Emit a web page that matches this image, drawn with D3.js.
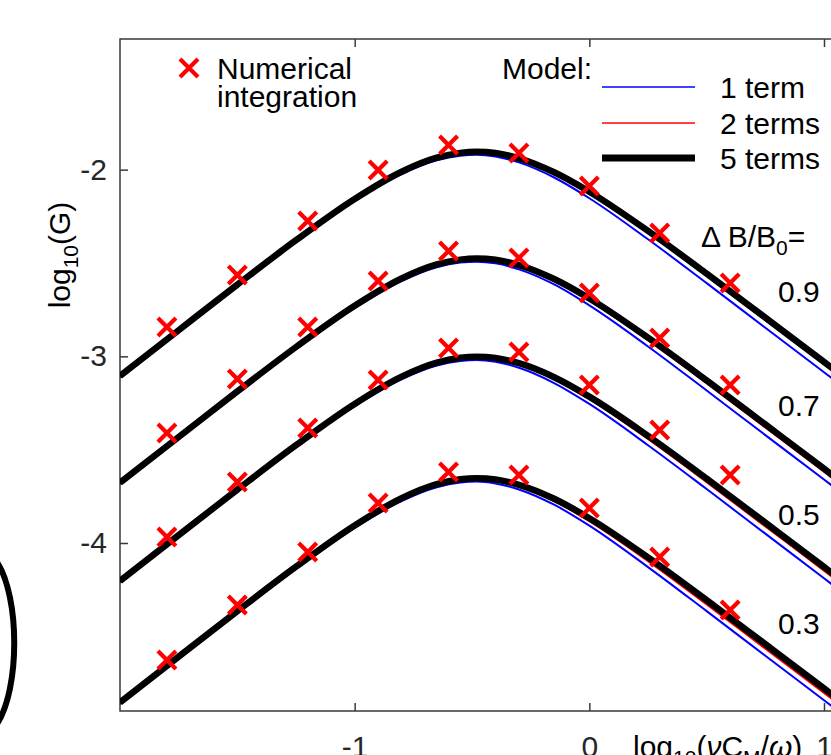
<!DOCTYPE html>
<html>
<head>
<meta charset="utf-8">
<title>log10(G) vs log10(nu C_M / omega)</title>
<script src="https://d3js.org/d3.v7.min.js"></script>
<style>
    body {
        margin: 0;
        background: #fff;
        overflow: hidden;
    }
    svg {
        display: block;
        font-family: "Liberation Sans", Arial, sans-serif;
    }
    .frame {
        stroke: #3a3a3a;
        stroke-width: 1.5;
        fill: none;
    }
</style>
</head>
<body>
<svg id="chart" width="831" height="755"></svg>
<script>
    // x grid the model curves were read on (log10(nu C_M / omega))
    const xModel = [-2, -1.75, -1.5, -1.25, -1, -0.8, -0.65, -0.55, -0.48, -0.4, -0.3, -0.15, 0, 0.25, 0.5, 0.75, 1, 1.05];

    // model, 1 term (blue)
    const term1_09 = [-3.113, -2.868, -2.625, -2.388, -2.168, -2.024, -1.950, -1.925, -1.920, -1.929, -1.961, -2.042, -2.153, -2.373, -2.608, -2.847, -3.085, -3.133];
    const term1_07 = [-3.685, -3.440, -3.197, -2.961, -2.741, -2.597, -2.523, -2.498, -2.493, -2.502, -2.534, -2.615, -2.727, -2.947, -3.183, -3.422, -3.660, -3.708];
    const term1_05 = [-4.212, -3.967, -3.724, -3.487, -3.267, -3.123, -3.049, -3.025, -3.020, -3.029, -3.061, -3.143, -3.255, -3.476, -3.711, -3.950, -4.189, -4.237];
    const term1_03 = [-4.863, -4.618, -4.375, -4.139, -3.919, -3.775, -3.701, -3.676, -3.671, -3.681, -3.713, -3.795, -3.907, -4.129, -4.365, -4.604, -4.842, -4.890];

    // model, 2 terms (red)
    const term2_09 = [-3.105, -2.860, -2.616, -2.378, -2.157, -2.012, -1.938, -1.912, -1.907, -1.915, -1.943, -2.020, -2.126, -2.338, -2.568, -2.805, -3.042, -3.090];
    const term2_07 = [-3.677, -3.432, -3.188, -2.950, -2.729, -2.585, -2.510, -2.485, -2.480, -2.488, -2.517, -2.594, -2.700, -2.914, -3.144, -3.381, -3.618, -3.666];
    const term2_05 = [-4.203, -3.958, -3.714, -3.476, -3.255, -3.111, -3.037, -3.012, -3.007, -3.015, -3.044, -3.122, -3.229, -3.443, -3.674, -3.911, -4.148, -4.196];
    const term2_03 = [-4.854, -4.609, -4.365, -4.127, -3.906, -3.762, -3.689, -3.664, -3.659, -3.667, -3.696, -3.775, -3.883, -4.097, -4.329, -4.566, -4.803, -4.851];

    // model, 5 terms (black)
    const term5_09 = [-3.105, -2.860, -2.616, -2.378, -2.157, -2.011, -1.936, -1.910, -1.904, -1.911, -1.939, -2.014, -2.118, -2.328, -2.557, -2.793, -3.030, -3.078];
    const term5_07 = [-3.677, -3.432, -3.188, -2.950, -2.729, -2.583, -2.508, -2.482, -2.476, -2.483, -2.511, -2.586, -2.690, -2.900, -3.129, -3.365, -3.602, -3.650];
    const term5_05 = [-4.203, -3.958, -3.714, -3.476, -3.255, -3.109, -3.034, -3.008, -3.002, -3.009, -3.037, -3.112, -3.216, -3.426, -3.655, -3.891, -4.128, -4.176];
    const term5_03 = [-4.854, -4.609, -4.365, -4.127, -3.906, -3.760, -3.685, -3.659, -3.653, -3.660, -3.688, -3.763, -3.867, -4.077, -4.306, -4.542, -4.779, -4.827];

    // numerical integration (red crosses)
    const xNum = [-1.8, -1.5, -1.2, -0.9, -0.6, -0.3, 0, 0.3, 0.6];
    const num09 = [-2.843, -2.564, -2.275, -2.002, -1.868, -1.911, -2.088, -2.339, -2.607];
    const num07 = [-3.411, -3.121, -2.843, -2.596, -2.436, -2.473, -2.661, -2.902, -3.154];
    const num05 = [-3.968, -3.673, -3.384, -3.127, -2.955, -2.977, -3.154, -3.395, -3.636];
    const num03 = [-4.627, -4.332, -4.048, -3.786, -3.620, -3.636, -3.813, -4.075, -4.359];

    const ratioLabels = ['0.9', '0.7', '0.5', '0.3'];
    const xTicks = [-1, 0, 1];
    const yTicks = [-2, -3, -4];

    const FONT = 30;
    const svg = d3.select('#chart');

    // plot box (right side runs past the window edge)
    const boxL = 120, boxT = 39, boxB = 711, boxR = 870;
    const x = d3.scaleLinear().domain([-2, 1]).range([120, 824]);
    const y = d3.scaleLinear().domain([-4.9, -1.3]).range([711, 39]);

    svg.append('defs').append('clipPath')
        .attr('id', 'plot-clip')
        .append('rect')
        .attr('x', boxL).attr('y', boxT)
        .attr('width', boxR - boxL).attr('height', boxB - boxT);

    // leftover bracket from the neighbouring panel
    svg.append('path')
        .attr('d', 'M -3 562 C 20 598, 20 688, -3 724')
        .attr('fill', 'none')
        .attr('stroke', '#000')
        .attr('stroke-width', 6);

    // axes
    function styleAxis(g) {
        g.select('.domain').remove();
        g.selectAll('.tick line').attr('stroke', '#3a3a3a').attr('stroke-width', 1.5);
        g.selectAll('.tick text').attr('fill', '#262626');
        g.attr('font-size', FONT).attr('font-family', '"Liberation Sans", Arial, sans-serif');
    }

    svg.append('g')
        .attr('transform', `translate(0,${boxB})`)
        .call(d3.axisBottom(x).tickValues(xTicks).tickFormat(d => String(d))
            .tickSizeInner(-8).tickSizeOuter(0).tickPadding(25))
        .call(styleAxis);

    svg.append('g')
        .attr('transform', `translate(0,${boxT})`)
        .call(d3.axisTop(x).tickValues(xTicks).tickFormat('')
            .tickSizeInner(-8).tickSizeOuter(0))
        .call(styleAxis);

    svg.append('g')
        .attr('transform', `translate(${boxL},0)`)
        .call(d3.axisLeft(y).tickValues(yTicks).tickFormat(d => String(d))
            .tickSizeInner(-8).tickSizeOuter(0).tickPadding(13))
        .call(styleAxis);

    svg.append('path')
        .attr('class', 'frame')
        .attr('d', `M ${boxR} ${boxT} H ${boxL} V ${boxB} H ${boxR}`);

    // curves
    const line = d3.line()
        .x((d, i) => x(xModel[i]))
        .y(d => y(d))
        .curve(d3.curveMonotoneX);

    const curves = svg.append('g').attr('clip-path', 'url(#plot-clip)');
    const blueRows = [term1_09, term1_07, term1_05, term1_03];
    const redRows = [term2_09, term2_07, term2_05, term2_03];
    const blackRows = [term5_09, term5_07, term5_05, term5_03];

    blueRows.forEach(r => curves.append('path').attr('d', line(r))
        .attr('fill', 'none').attr('stroke', '#0000ff').attr('stroke-width', 2));
    redRows.forEach(r => curves.append('path').attr('d', line(r))
        .attr('fill', 'none').attr('stroke', '#ff0000').attr('stroke-width', 2));
    blackRows.forEach(r => curves.append('path').attr('d', line(r))
        .attr('fill', 'none').attr('stroke', '#000').attr('stroke-width', 6.5));

    // crosses
    const cross = s => `M ${-s} ${-s} L ${s} ${s} M ${-s} ${s} L ${s} ${-s}`;
    [num09, num07, num05, num03].forEach(row => {
        curves.selectAll(null)
            .data(row)
            .enter().append('path')
            .attr('transform', (d, i) => `translate(${x(xNum[i])},${y(d)})`)
            .attr('d', cross(9))
            .attr('fill', 'none')
            .attr('stroke', '#ff0000')
            .attr('stroke-width', 4.2);
    });

    // legend
    svg.append('path')
        .attr('transform', 'translate(189,68)')
        .attr('d', cross(9))
        .attr('stroke', '#ff0000').attr('stroke-width', 4.2).attr('fill', 'none');
    svg.append('text').attr('x', 217).attr('y', 79).attr('font-size', FONT).text('Numerical');
    svg.append('text').attr('x', 217).attr('y', 107).attr('font-size', FONT).text('integration');
    svg.append('text').attr('x', 592).attr('y', 79).attr('font-size', FONT)
        .attr('text-anchor', 'end').text('Model:');

    const legendItems = [
        { label: '1 term', color: '#0000ff', width: 1.5, ly: 87 },
        { label: '2 terms', color: '#ff0000', width: 1.5, ly: 123 },
        { label: '5 terms', color: '#000', width: 7, ly: 158 }
    ];
    legendItems.forEach(it => {
        svg.append('line')
            .attr('x1', 602).attr('x2', 695)
            .attr('y1', it.ly).attr('y2', it.ly)
            .attr('stroke', it.color).attr('stroke-width', it.width);
        svg.append('text')
            .attr('x', 720).attr('y', it.ly + 11)
            .attr('font-size', FONT)
            .text(it.label);
    });

    // Delta B / B0 labels
    const dLabel = svg.append('text').attr('x', 701).attr('y', 247).attr('font-size', FONT);
    dLabel.append('tspan').text('\u0394 B/B');
    dLabel.append('tspan').attr('font-size', 21).attr('dy', 8).text('0');
    dLabel.append('tspan').attr('dy', -8).text('=');

    const ratioY = [302, 416, 525, 634];
    ratioLabels.forEach((t, i) => {
        svg.append('text').attr('x', 778).attr('y', ratioY[i])
            .attr('font-size', FONT).text(t);
    });

    // axis titles
    const yl = svg.append('text')
        .attr('transform', 'translate(70,255) rotate(-90)')
        .attr('text-anchor', 'middle')
        .attr('font-size', FONT);
    yl.append('tspan').text('log');
    yl.append('tspan').attr('font-size', 21).attr('dy', 8).text('10');
    yl.append('tspan').attr('dy', -8).text('(G)');

    const xl = svg.append('text')
        .attr('x', 633).attr('y', 757)
        .attr('font-size', FONT);
    xl.append('tspan').text('log');
    xl.append('tspan').attr('font-size', 21).attr('dy', 8).text('10');
    xl.append('tspan').attr('dy', -8).text('(');
    xl.append('tspan').attr('font-style', 'italic').text('\u03bd');
    xl.append('tspan').text('C');
    xl.append('tspan').attr('font-size', 21).attr('dy', 8).text('M');
    xl.append('tspan').attr('dy', -8).text('/');
    xl.append('tspan').attr('font-style', 'italic').text('\u03c9');
    xl.append('tspan').text(')');
</script>
</body>
</html>
